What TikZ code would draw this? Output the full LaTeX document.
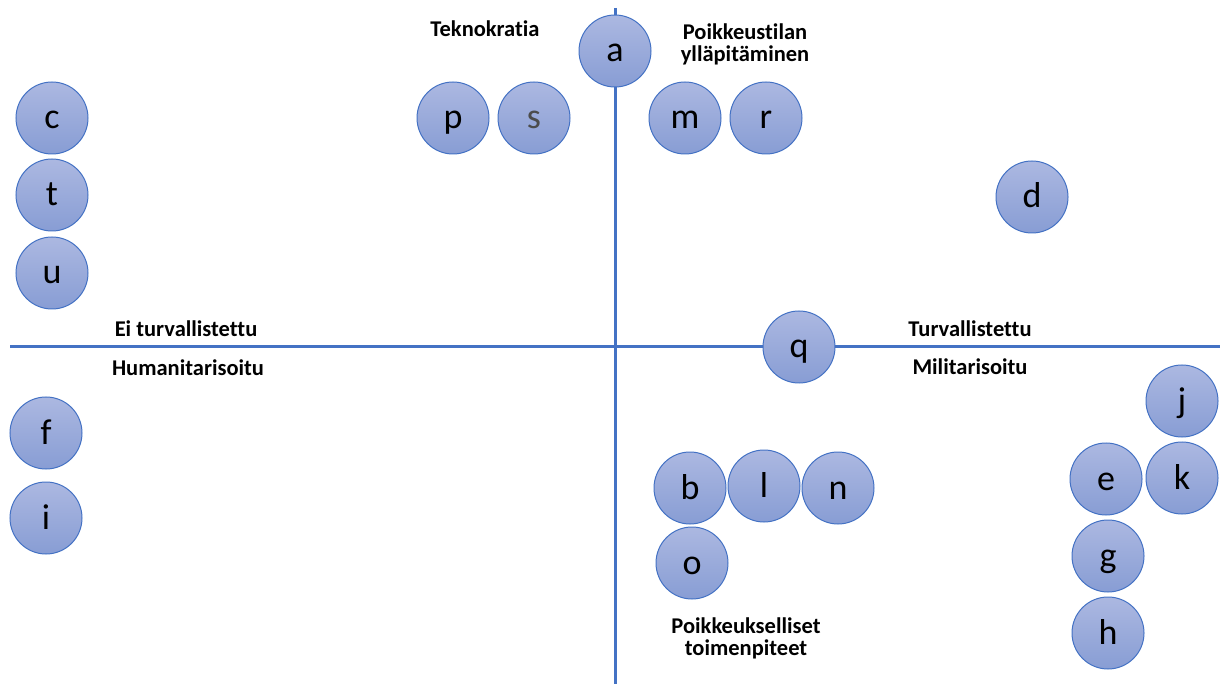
\documentclass[tikz,border=0pt]{standalone}
\usepackage{fontspec}
\setmainfont{Carlito}[Ligatures=NoCommon]
\definecolor{axisblue}{RGB}{68,114,196}
\definecolor{topfill}{RGB}{172,184,225}
\definecolor{botfill}{RGB}{136,157,212}
\begin{document}
\begin{tikzpicture}[x=1pt,y=-1pt,
  bub/.style={circle,draw=axisblue,line width=1pt,top color=topfill,bottom color=botfill,minimum size=72pt,inner sep=0pt,font=\fontsize{36}{36}\selectfont,text=black,text height=22pt,text depth=0pt},
  lab/.style={font=\bfseries\fontsize{22.5}{22}\selectfont,align=center},
  axis/.style={draw=axisblue,line width=3pt}]
\useasboundingbox (0,0) rectangle (1226,684);
\coordinate (vt) at (615,8);
\coordinate (vb) at (615,684);
\coordinate (hl) at (10,347);
\coordinate (hr) at (1220,347);
\draw[axis] (vt) -- (vb);
\draw[axis] (hl) -- (hr);
\node[bub] (a) at (615,51) {a};
\node[bub] (p) at (453,118) {p};
\node[bub,text=black!70] (s) at (534,118) {s};
\node[bub] (m) at (685,118) {m};
\node[bub] (r) at (766,118) {r};
\node[bub] (c) at (52,118) {c};
\node[bub] (t) at (52,195) {t};
\node[bub] (u) at (52,273) {u};
\node[bub] (d) at (1032,197) {d};
\node[bub] (q) at (799,347) {q};
\node[bub] (f) at (46,433) {f};
\node[bub] (i) at (46,518) {i};
\node[bub] (j) at (1182,401) {j};
\node[bub] (e) at (1106,479) {e};
\node[bub] (k) at (1182,478) {k};
\node[bub] (g) at (1108,556) {g};
\node[bub] (h) at (1108,633) {h};
\node[bub] (b) at (690,488) {b};
\node[bub] (l) at (764,486) {l};
\node[bub] (n) at (838,488) {n};
\node[bub] (o) at (692,563) {o};
\node[lab,anchor=base] (tek) at (485,37) {Teknokratia};
\node[lab] (poi) at (745,44) {Poikkeustilan\\ylläpitäminen};
\node[lab,anchor=base] (eit) at (186,337) {Ei turvallistettu};
\node[lab,anchor=base] (hum) at (188,376) {Humanitarisoitu};
\node[lab,anchor=base] (tur) at (970,337) {Turvallistettu};
\node[lab,anchor=base] (mil) at (970,375) {Militarisoitu};
\node[lab] (pt) at (746,638) {Poikkeukselliset\\toimenpiteet};
\end{tikzpicture}
\end{document}
